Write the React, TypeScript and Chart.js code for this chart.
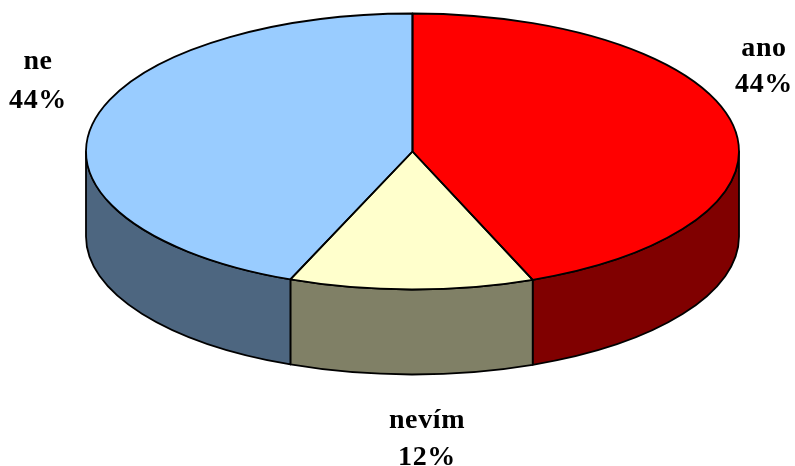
import React, { useEffect, useRef } from "react";
import { Chart, registerables } from "chart.js";

Chart.register(...registerables);

const categories = ["ano", "nevím", "ne"];
const shares = [44, 12.1, 43.9];
const topColors = ["#ff0000", "#ffffcc", "#99ccff"];
const wallColors = ["#800000", "#808066", "#4d6680"];
const percentLabels = ["44%", "12%", "44%"];

const CX = 412.5;
const CY = 151.5;
const RX = 326.5;
const RY = 138;
const DEPTH = 85;
const EDGE = "#000000";
const LINE = 1.8;
const FONT = 'bold 28px "Liberation Serif", "Times New Roman", serif';
const labelPos = [
  { x: 764, y1: 56, y2: 92 },
  { x: 427, y1: 428, y2: 465 },
  { x: 38, y1: 69, y2: 108 },
];

const pie3d = {
  id: "pie3d",
  beforeDatasetsDraw(chart: any) {
    const ctx = chart.ctx;
    const arcs = chart.getDatasetMeta(0).data;
    ctx.save();
    ctx.lineWidth = LINE;
    ctx.strokeStyle = EDGE;
    ctx.lineJoin = "round";
    arcs.forEach((arc: any, i: number) => {
      const from = Math.max(arc.startAngle, 0);
      const to = Math.min(arc.endAngle, Math.PI);
      if (from >= to) return;
      ctx.beginPath();
      ctx.ellipse(CX, CY, RX, RY, 0, from, to);
      ctx.ellipse(CX, CY + DEPTH, RX, RY, 0, to, from, true);
      ctx.closePath();
      ctx.fillStyle = wallColors[i];
      ctx.fill();
      ctx.stroke();
    });
    ctx.restore();
    const a = arcs[0];
    ctx.save();
    ctx.translate(CX, CY);
    ctx.scale(RX / a.outerRadius, RY / a.outerRadius);
    ctx.translate(-a.x, -a.y);
  },
  afterDatasetsDraw(chart: any) {
    const ctx = chart.ctx;
    ctx.restore();
    const arcs = chart.getDatasetMeta(0).data;
    ctx.save();
    ctx.lineWidth = LINE;
    ctx.strokeStyle = EDGE;
    ctx.lineJoin = "round";
    arcs.forEach((arc: any) => {
      ctx.beginPath();
      ctx.moveTo(CX, CY);
      ctx.ellipse(CX, CY, RX, RY, 0, arc.startAngle, arc.endAngle);
      ctx.closePath();
      ctx.stroke();
    });
    ctx.fillStyle = "#000000";
    ctx.font = FONT;
    ctx.letterSpacing = "0.6px";
    ctx.textAlign = "center";
    ctx.textBaseline = "alphabetic";
    categories.forEach((name, i) => {
      ctx.fillText(name, labelPos[i].x, labelPos[i].y1);
      ctx.fillText(percentLabels[i], labelPos[i].x, labelPos[i].y2);
    });
    ctx.restore();
  },
};

export default function App() {
  const ref = useRef<HTMLCanvasElement>(null);
  useEffect(() => {
    const chart = new Chart(ref.current as HTMLCanvasElement, {
      type: "pie",
      data: {
        labels: categories,
        datasets: [{ data: shares, backgroundColor: topColors, borderWidth: 0 }],
      },
      options: {
        animation: false,
        responsive: false,
        devicePixelRatio: 1,
        rotation: 0,
        plugins: { legend: { display: false }, tooltip: { enabled: false } },
      },
      plugins: [pie3d],
    } as any);
    return () => chart.destroy();
  }, []);
  return (
    <div style={{ position: "absolute", left: 0, top: 0, background: "#ffffff" }}>
      <canvas ref={ref} width={795} height={466} style={{ display: "block" }} />
    </div>
  );
}
